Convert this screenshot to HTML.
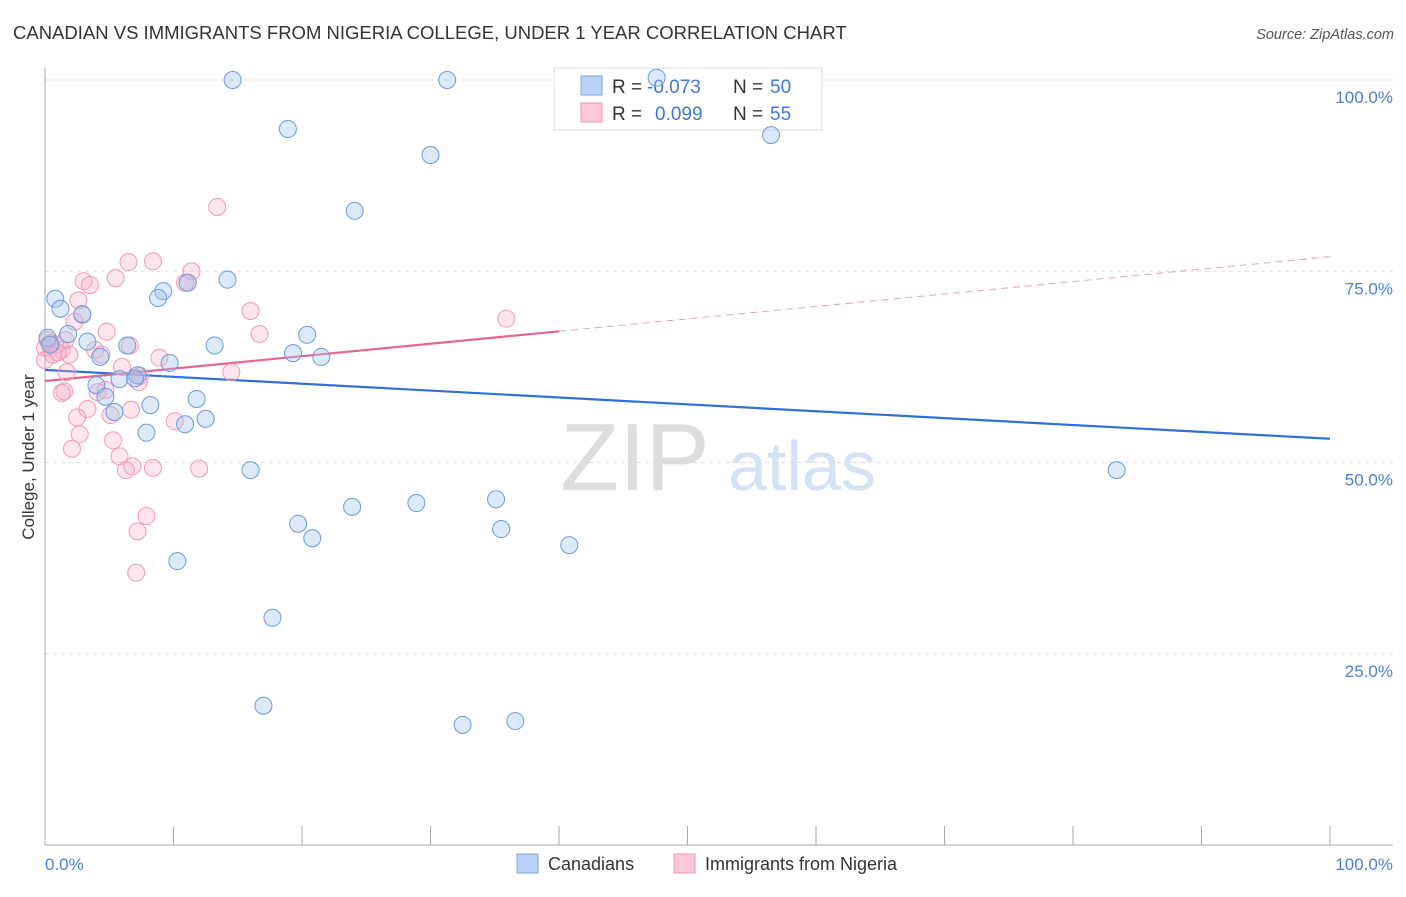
<!DOCTYPE html>
<html><head><meta charset="utf-8">
<style>
body{margin:0;background:#fff;font-family:"Liberation Sans",sans-serif;}
svg text{font-family:"Liberation Sans",sans-serif;}
</style></head>
<body>
<svg id="chart" width="1406" height="892" viewBox="0 0 1406 892" xmlns="http://www.w3.org/2000/svg">
<text x="13" y="39" font-size="18.5" fill="#333">CANADIAN VS IMMIGRANTS FROM NIGERIA COLLEGE, UNDER 1 YEAR CORRELATION CHART</text>
<text x="1394" y="39" font-size="14.5" fill="#555" text-anchor="end" font-style="italic">Source: ZipAtlas.com</text>
<g>
<text x="635" y="490" font-size="96" fill="#ddd" text-anchor="middle" font-family="Liberation Serif,serif">ZIP</text>
<text x="802" y="490" font-size="70" fill="#d4e2f6" text-anchor="middle">atlas</text>
</g>
<g id="grid"></g>
<g id="axes"></g>
<g>
<rect x="554" y="68" width="268" height="62" fill="#fff" stroke="#ddd"/>
<rect x="581" y="76" width="21" height="19" fill="#b9d3f5" stroke="#7aa6e6"/>
<rect x="581" y="103" width="21" height="19" fill="#fcc7d6" stroke="#f09ab5"/>
<text x="612" y="93" font-size="19" fill="#333">R =</text>
<text x="647" y="93" font-size="19" fill="#3f77d6">-0.073</text>
<text x="733" y="93" font-size="19" fill="#333">N =</text>
<text x="770" y="93" font-size="19" fill="#3f77d6">50</text>
<text x="612" y="120" font-size="19" fill="#333">R =</text>
<text x="655" y="120" font-size="19" fill="#3f77d6">0.099</text>
<text x="733" y="120" font-size="19" fill="#333">N =</text>
<text x="770" y="120" font-size="19" fill="#3f77d6">55</text>
</g>
<g id="trends"></g>
<g id="points"></g>
<text transform="translate(34,457) rotate(-90)" font-size="17" fill="#333" text-anchor="middle">College, Under 1 year</text>
<text x="45" y="870" font-size="17" fill="#4a7fd8">0.0%</text>
<text x="1393" y="870" font-size="17" fill="#4a7fd8" text-anchor="end">100.0%</text>
<g>
<rect x="517" y="854" width="21" height="19" fill="#b9d3f5" stroke="#7aa6e6"/>
<text x="548" y="870" font-size="18" fill="#333">Canadians</text>
<rect x="674" y="854" width="21" height="19" fill="#fcc7d6" stroke="#f09ab5"/>
<text x="705" y="870" font-size="18" fill="#333">Immigrants from Nigeria</text>
</g>
</svg>
<script>
const yTicks=[25,50,75,100];
const yTickLabels=["25.0%","50.0%","75.0%","100.0%"];
const xTicks=[0,10,20,30,40,50,60,70,80,90,100];
const canX=[14.6,31.3,47.6,18.9,30.0,56.5,24.1,14.2,11.1,9.2,8.8,0.8,1.2,2.9,20.4,1.8,3.3,13.2,6.4,19.3,21.5,4.3,9.7,7.2,7.0,5.8,4.0,11.8,4.7,8.2,5.4,12.5,10.9,7.9,16.0,83.4,35.1,28.9,23.9,19.7,35.5,20.8,40.8,10.3,17.7,17.0,32.5,36.6,0.2,0.4];
const canY=[100,100,100.3,93.6,90.2,92.8,82.9,73.9,73.5,72.4,71.5,71.4,70.1,69.4,66.7,66.8,65.8,65.3,65.3,64.3,63.8,63.8,63.0,61.4,61.0,60.9,60.1,58.3,58.6,57.5,56.6,55.7,55.0,53.9,49.0,49.0,45.2,44.7,44.2,42.0,41.3,40.1,39.2,37.1,29.7,18.2,15.7,16.2,66.3,65.4];
const nigX=[13.4,6.5,8.4,11.4,5.5,3.0,3.5,11.1,2.6,16.0,2.9,2.3,35.9,16.7,4.8,0.2,0.8,1.3,0,1.9,6.6,3.9,4.4,8.9,6.0,14.5,1.7,7.4,7.3,4.7,4.1,1.5,1.3,5.1,6.7,3.3,10.1,2.5,2.7,5.3,2.1,5.8,6.8,8.4,6.3,12.0,7.9,7.2,7.1,10.9,1.6,1.0,0.4,0.6,0];
const nigY=[83.4,76.2,76.3,75.0,74.1,73.7,73.2,73.5,71.2,69.8,69.3,68.4,68.8,66.8,67.1,66.0,65.4,64.7,65.0,64.1,65.3,64.7,64.1,63.7,62.5,61.8,61.8,61.3,60.5,59.5,59.2,59.3,59.1,56.2,56.9,57.0,55.4,55.9,53.7,52.9,51.8,50.8,49.5,49.3,49.0,49.2,43.0,41.0,35.6,73.5,66.0,64.4,65.6,64.1,63.4];
const canTrend=[62.1,53.1];
const nigTrend=[60.65,76.9];
const nigSolidEnd=40;

const NS="http://www.w3.org/2000/svg";
const X0=45,X1=1330,Y0=845,Y100=80;
const xs=v=>X0+(X1-X0)*v/100;
const ys=v=>Y0-(Y0-Y100)*v/100;
function mk(tag,attrs,parent){const e=document.createElementNS(NS,tag);for(const k in attrs)e.setAttribute(k,attrs[k]);document.getElementById(parent).appendChild(e);return e;}

yTicks.forEach((t,i)=>{
  const g=mk('line',{x1:X0,x2:1393,y1:ys(t),y2:ys(t),stroke:'#ddd','stroke-dasharray':'4,4'},'grid');
  
  
  const l=mk('text',{x:1393,y:ys(t)+23,'font-size':17,fill:'#4a7fd8','text-anchor':'end'},'grid');
  l.textContent=yTickLabels[i];
  
  
});
let a=mk('line',{x1:X0,x2:X0,y1:68,y2:Y0,stroke:'#aaa'},'axes');


a=mk('line',{x1:X0,x2:1393,y1:Y0,y2:Y0,stroke:'#aaa'},'axes');


xTicks.forEach(t=>{
  const tk=mk('line',{x1:xs(t),x2:xs(t),y1:826,y2:Y0,stroke:'#aaa'},'axes');
  
  
});
let tl=mk('line',{x1:xs(0),y1:ys(canTrend[0]),x2:xs(100),y2:ys(canTrend[1]),stroke:'#2f6fd6','stroke-width':2.2},'trends');


const nAt=v=>nigTrend[0]+(nigTrend[1]-nigTrend[0])*v/100;
tl=mk('line',{x1:xs(0),y1:ys(nigTrend[0]),x2:xs(nigSolidEnd),y2:ys(nAt(nigSolidEnd)),stroke:'#e8648f','stroke-width':2.2},'trends');


tl=mk('line',{x1:xs(nigSolidEnd),y1:ys(nAt(nigSolidEnd)),x2:xs(100),y2:ys(nigTrend[1]),stroke:'#e8a0b8','stroke-width':1,'stroke-dasharray':'7,5'},'trends');


nigX.forEach((v,i)=>{
  const c=mk('circle',{cx:xs(v),cy:ys(nigY[i]),r:8.5,fill:'rgba(245,170,192,0.3)',stroke:'#ee9ab3','stroke-width':1},'points');
  
  
});
canX.forEach((v,i)=>{
  const c=mk('circle',{cx:xs(v),cy:ys(canY[i]),r:8.5,fill:'rgba(160,196,240,0.38)',stroke:'#6a9ae0','stroke-width':1},'points');
  
  
});
</script>
</body></html>
